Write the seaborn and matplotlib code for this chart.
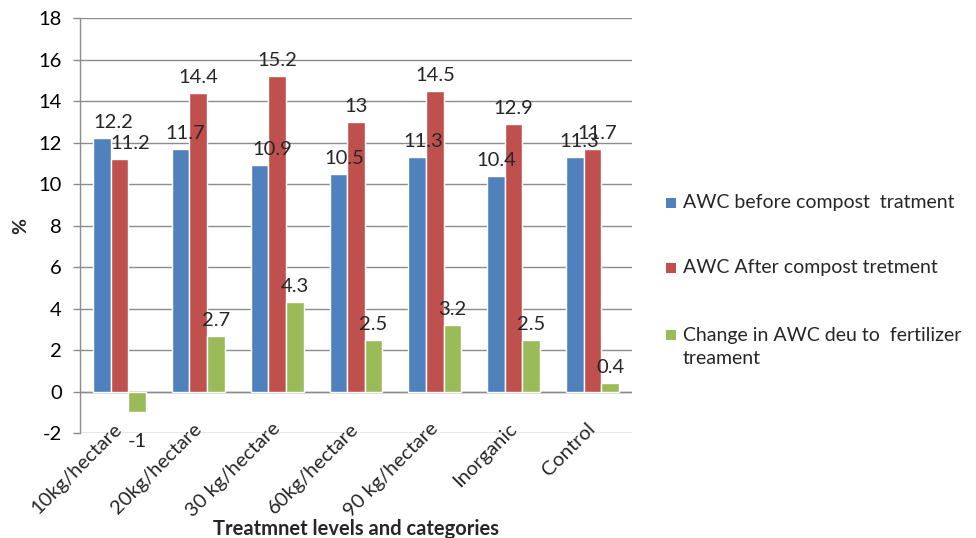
import matplotlib
matplotlib.use("Agg")
import matplotlib.pyplot as plt
from matplotlib.patches import Rectangle
from matplotlib.transforms import ScaledTranslation
import seaborn as sns
import pandas as pd

# Treatment categories and available water content (%) values
categories = ["10kg/hectare", "20kg/hectare", "30 kg/hectare", "60kg/hectare",
              "90 kg/hectare", "Inorganic", "Control"]
awc_before = [12.2, 11.7, 10.9, 10.5, 11.3, 10.4, 11.3]
awc_after = [11.2, 14.4, 15.2, 13.0, 14.5, 12.9, 11.7]
awc_change = [-1.0, 2.7, 4.3, 2.5, 3.2, 2.5, 0.4]

series_names = ["AWC before compost  tratment",
                "AWC After compost tretment",
                "Change in AWC deu to  fertilizer\ntreament"]
series_values = [awc_before, awc_after, awc_change]
colors = ["#4F81BD", "#C0504D", "#9BBB59"]
yticks = [-2, 0, 2, 4, 6, 8, 10, 12, 14, 16, 18]

# Horizontal nudges (points) for value labels so neighbouring labels don't collide
label_nudges = [[8, 3, 9, 4, 4, 0, 3],
                [8, 0, 0, 0, 0, 0, 3],
                [0, 0, 0, 0, 0, 0, 0]]

rows = []
for name, vals in zip(series_names, series_values):
    for cat, v in zip(categories, vals):
        rows.append({"category": cat, "series": name, "value": v})
df = pd.DataFrame(rows)

sns.set_theme(style="white")
plt.rcParams["font.family"] = ["Lato", "DejaVu Sans"]

fig = plt.figure(figsize=(9.76, 5.38), dpi=100)
ax = fig.add_axes([0.082, 0.195, 0.5655, 0.7715])

sns.barplot(data=df, x="category", y="value", hue="series",
            order=categories, hue_order=series_names,
            palette=colors, width=0.67, gap=0, saturation=1,
            errorbar=None, legend=False, ax=ax, zorder=3)

ax.set_ylim(-2, 18)
ax.set_xlim(-0.5, len(categories) - 0.5)
ax.set_yticks(yticks)
ax.set_yticklabels([str(t) for t in yticks], fontsize=14.5)
ax.yaxis.grid(True, color="#8C8C8C", linewidth=1, zorder=0)
ax.axhline(0, color="#8C8C8C", linewidth=1, zorder=2)
for side in ["top", "right", "bottom"]:
    ax.spines[side].set_visible(False)
ax.spines["left"].set_color("#8C8C8C")
ax.spines["left"].set_linewidth(1)
ax.tick_params(axis="y", length=5, color="#8C8C8C", width=1, pad=8,
               left=True, labelcolor="black")
ax.tick_params(axis="x", length=0, pad=0)

ax.set_xticks(range(len(categories)))
ax.set_xticklabels(categories, rotation=45, ha="right", va="center",
                   rotation_mode="anchor", fontsize=14.5)
# lift the slanted category labels so their ends sit just above the axis line
lift = ScaledTranslation(0, 7 / 100, fig.dpi_scale_trans)
for lbl in ax.get_xticklabels():
    lbl.set_transform(lbl.get_transform() + lift)

ax.set_xlabel("Treatmnet levels and categories", fontsize=14.5,
              fontweight="bold", va="center")
ax.xaxis.set_label_coords(0.5, -0.231)
ax.set_ylabel("%", fontsize=14, fontweight="bold", va="center")
ax.yaxis.set_label_coords(-0.108, 0.5)

# Value labels above (or below) each bar
for container, vals, nudges in zip(ax.containers, series_values, label_nudges):
    for bar, v, dx in zip(container, vals, nudges):
        x = bar.get_x() + bar.get_width() / 2
        if v >= 0:
            ax.annotate(f"{v:g}", (x, v), xytext=(dx, 5),
                        textcoords="offset points", ha="center", va="bottom",
                        fontsize=14.5)
        else:
            ax.annotate(f"{v:g}", (x, v), xytext=(dx, -15),
                        textcoords="offset points", ha="center", va="top",
                        fontsize=14.5, annotation_clip=False)

# Legend drawn to the right of the plot area
W, H = 976, 538
legend_rows = [203, 268, 335]
for ypix, label, col in zip(legend_rows, series_names, colors):
    fig.add_artist(Rectangle((666 / W, 1 - (ypix + 5) / H), 10 / W, 10 / H,
                             transform=fig.transFigure, facecolor=col,
                             edgecolor="none"))
    for i, line in enumerate(label.split("\n")):
        fig.text(683 / W, 1 - (ypix + i * 23) / H, line, fontsize=14,
                 ha="left", va="center", transform=fig.transFigure)

fig.savefig("out.png", dpi=100)
